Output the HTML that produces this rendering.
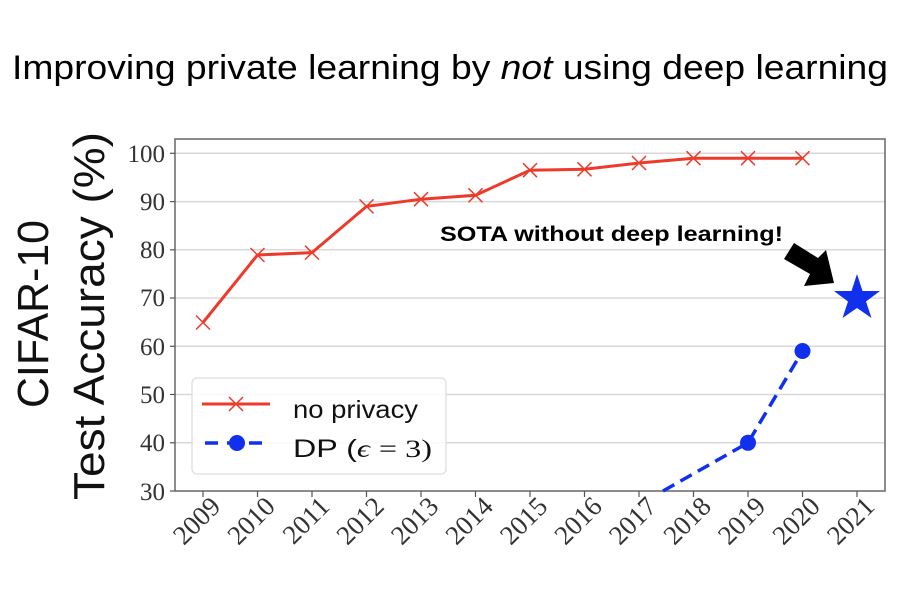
<!DOCTYPE html>
<html><head><style>body{margin:0;background:#fff;}svg{display:block}</style></head><body>
<svg width="900" height="600" xmlns="http://www.w3.org/2000/svg">
<text x="12" y="79" textLength="876" lengthAdjust="spacingAndGlyphs" font-family="Liberation Sans, sans-serif" font-size="34">Improving private learning by <tspan font-style="italic">not</tspan> using deep learning</text>
<g stroke="#d8d8d8" stroke-width="1.5">
<line x1="175" x2="885" y1="153.3" y2="153.3"/><line x1="175" x2="885" y1="201.6" y2="201.6"/><line x1="175" x2="885" y1="249.8" y2="249.8"/><line x1="175" x2="885" y1="298" y2="298"/><line x1="175" x2="885" y1="346.3" y2="346.3"/><line x1="175" x2="885" y1="394.5" y2="394.5"/><line x1="175" x2="885" y1="442.8" y2="442.8"/>
</g>
<rect x="175" y="139" width="710" height="352" fill="none" stroke="#666" stroke-width="1.5"/>
<g font-family="Liberation Serif, serif" font-size="25" fill="#333" text-anchor="end">
<text x="165" y="162">100</text><text x="165" y="210">90</text><text x="165" y="258">80</text><text x="165" y="306">70</text><text x="165" y="355">60</text><text x="165" y="403">50</text><text x="165" y="451">40</text><text x="165" y="500">30</text>
</g>
<g stroke="#555" stroke-width="1.2">
<line x1="170" x2="175" y1="153.3" y2="153.3"/><line x1="170" x2="175" y1="201.6" y2="201.6"/><line x1="170" x2="175" y1="249.8" y2="249.8"/><line x1="170" x2="175" y1="298" y2="298"/><line x1="170" x2="175" y1="346.3" y2="346.3"/><line x1="170" x2="175" y1="394.5" y2="394.5"/><line x1="170" x2="175" y1="442.8" y2="442.8"/><line x1="170" x2="175" y1="491" y2="491"/>
</g>
<g font-family="Liberation Serif, serif" font-size="27" fill="#333" text-anchor="end">
<g transform="translate(222,508) rotate(-45)"><text>2009</text></g>
<g transform="translate(276.5,508) rotate(-45)"><text>2010</text></g>
<g transform="translate(331,508) rotate(-45)"><text>2011</text></g>
<g transform="translate(385.5,508) rotate(-45)"><text>2012</text></g>
<g transform="translate(440,508) rotate(-45)"><text>2013</text></g>
<g transform="translate(494.5,508) rotate(-45)"><text>2014</text></g>
<g transform="translate(549,508) rotate(-45)"><text>2015</text></g>
<g transform="translate(603.5,508) rotate(-45)"><text>2016</text></g>
<g transform="translate(658,508) rotate(-45)"><text>2017</text></g>
<g transform="translate(712.5,508) rotate(-45)"><text>2018</text></g>
<g transform="translate(767,508) rotate(-45)"><text>2019</text></g>
<g transform="translate(821.5,508) rotate(-45)"><text>2020</text></g>
<g transform="translate(876,508) rotate(-45)"><text>2021</text></g>
</g>
<g stroke="#555" stroke-width="1.2">
<line x1="203" x2="203" y1="491" y2="497"/><line x1="257.5" x2="257.5" y1="491" y2="497"/><line x1="312" x2="312" y1="491" y2="497"/><line x1="366.5" x2="366.5" y1="491" y2="497"/><line x1="421" x2="421" y1="491" y2="497"/><line x1="475.5" x2="475.5" y1="491" y2="497"/><line x1="530" x2="530" y1="491" y2="497"/><line x1="584.5" x2="584.5" y1="491" y2="497"/><line x1="639" x2="639" y1="491" y2="497"/><line x1="693.5" x2="693.5" y1="491" y2="497"/><line x1="748" x2="748" y1="491" y2="497"/><line x1="802.5" x2="802.5" y1="491" y2="497"/><line x1="857" x2="857" y1="491" y2="497"/>
</g>
<text transform="translate(48,408) rotate(-90)" textLength="188" lengthAdjust="spacingAndGlyphs" font-family="Liberation Sans, sans-serif" font-size="44" fill="#111">CIFAR-10</text>
<text transform="translate(104,500) rotate(-90)" textLength="368" lengthAdjust="spacingAndGlyphs" font-family="Liberation Sans, sans-serif" font-size="44" fill="#111">Test Accuracy (%)</text>
<polyline fill="none" stroke="#ee3a2a" stroke-width="3" points="203,322.5 257.5,255 312,252.6 366.5,206.4 421,199.2 475.5,195.3 530,170.2 584.5,169.3 639,163 693.5,158.2 748,158.2 802.5,158.2"/>
<g stroke="#ee3a2a" stroke-width="1.5">
<path d="M196,315.5l14,14m0,-14l-14,14"/><path d="M250.5,248l14,14m0,-14l-14,14"/><path d="M305,245.6l14,14m0,-14l-14,14"/><path d="M359.5,199.4l14,14m0,-14l-14,14"/><path d="M414,192.2l14,14m0,-14l-14,14"/><path d="M468.5,188.3l14,14m0,-14l-14,14"/><path d="M523,163.2l14,14m0,-14l-14,14"/><path d="M577.5,162.3l14,14m0,-14l-14,14"/><path d="M632,156l14,14m0,-14l-14,14"/><path d="M686.5,151.2l14,14m0,-14l-14,14"/><path d="M741,151.2l14,14m0,-14l-14,14"/><path d="M795.5,151.2l14,14m0,-14l-14,14"/>
</g>
<polyline fill="none" stroke="#1030ee" stroke-width="3.5" stroke-dasharray="13,7" points="663,491 748,442.8 802.5,351"/>
<circle cx="748" cy="442.8" r="8" fill="#1030ee"/><circle cx="802.5" cy="351" r="8" fill="#1030ee"/>
<polygon fill="#1030ee" points="857,274 862.5,291 880,291 866,301.5 871.5,318 857,308 842.5,318 848,301.5 834,291 851.5,291"/>
<text x="440" y="241" textLength="343" lengthAdjust="spacingAndGlyphs" font-family="Liberation Sans, sans-serif" font-weight="bold" font-size="21" fill="#000">SOTA without deep learning!</text>
<polygon fill="#000" points="784,259 794,243 818,258 826,250 834,283 804,286 810,274"/>
<rect x="192" y="378" width="254" height="96" rx="5" fill="#fff" fill-opacity="0.85" stroke="#ddd" stroke-width="1.2"/>
<line x1="202" y1="404" x2="270" y2="404" stroke="#ee3a2a" stroke-width="3"/>
<path d="M229,397l14,14m0,-14l-14,14" stroke="#ee3a2a" stroke-width="1.5"/>
<line x1="205" y1="443" x2="270" y2="443" stroke="#1030ee" stroke-width="3.5" stroke-dasharray="13,9"/>
<circle cx="237" cy="443" r="8" fill="#1030ee"/>
<text x="293" y="418" textLength="125" lengthAdjust="spacingAndGlyphs" font-family="Liberation Sans, sans-serif" font-size="25" fill="#111">no privacy</text>
<text x="293" y="457" textLength="139" lengthAdjust="spacingAndGlyphs" font-family="Liberation Sans, sans-serif" font-size="25" fill="#111">DP (<tspan font-family="Liberation Serif, serif" font-style="italic">ϵ</tspan> <tspan font-family="Liberation Serif, serif">= 3)</tspan></text>
</svg>
</body></html>
